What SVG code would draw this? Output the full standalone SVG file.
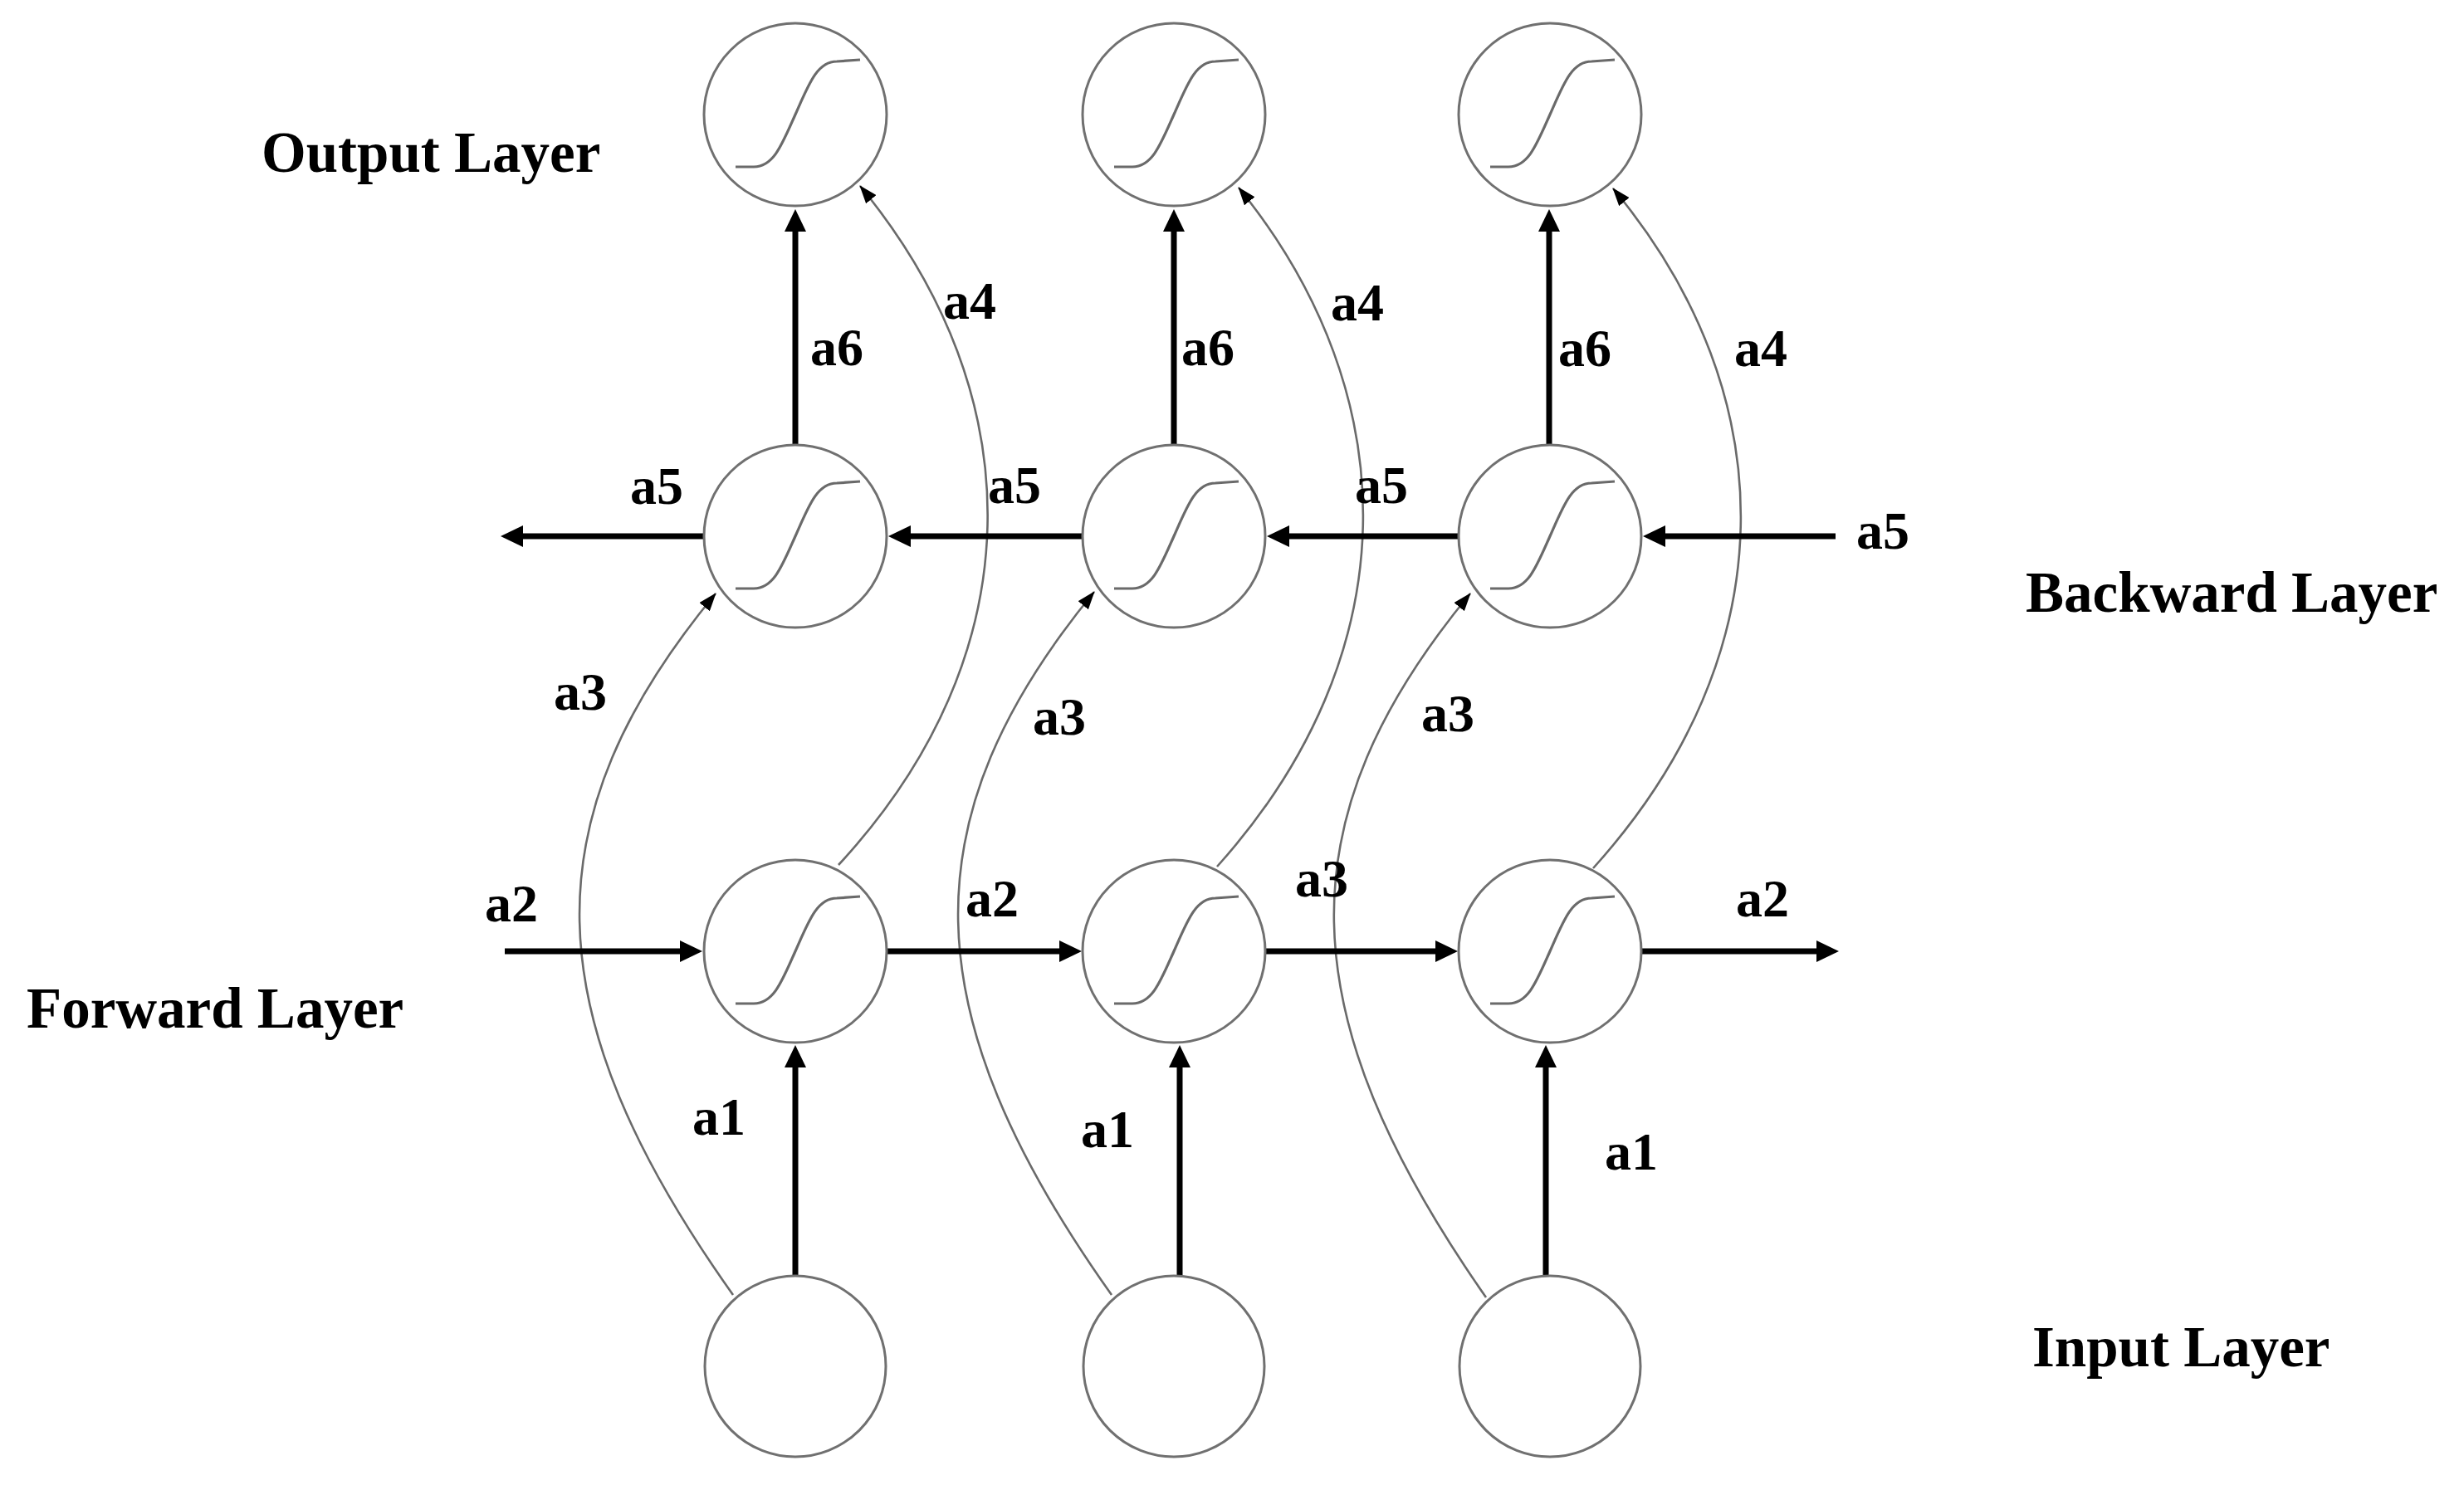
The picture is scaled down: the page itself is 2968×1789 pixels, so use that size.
<svg xmlns="http://www.w3.org/2000/svg" xmlns:xlink="http://www.w3.org/1999/xlink" width="2968" height="1789" viewBox="0 0 2968 1789">
<style>
.node{fill:#ffffff;stroke:#707070;stroke-width:3}
.sig{fill:none;stroke:#6a6a6a;stroke-width:3.2}
.thick{fill:none;stroke:#000000;stroke-width:7}
.thin{fill:none;stroke:#6a6a6a;stroke-width:2.6}
.lbl{font-family:"Liberation Serif","Times New Roman",serif;font-weight:bold;font-size:64px;fill:#000000}
.layer{font-family:"Liberation Serif","Times New Roman",serif;font-weight:bold;font-size:69px;fill:#000000}
</style>
<defs>
<marker id="big" markerUnits="userSpaceOnUse" markerWidth="28" markerHeight="26" viewBox="0 0 28 26" refX="0" refY="13" orient="auto">
<path d="M0,0 L27,13 L0,26 Z" fill="#000000"/>
</marker>
<marker id="small" markerUnits="userSpaceOnUse" markerWidth="22" markerHeight="16" viewBox="0 0 22 16" refX="21" refY="8" orient="auto">
<path d="M0,0 L22,8 L0,16 Z" fill="#000000"/>
</marker>
<path id="sigmoid" class="sig" d="M -72 63 L -50 63 C -26 63 -16 36 0 0 C 16 -36 26 -64 50 -64 L 78 -66"/>
</defs>
<rect width="2968" height="1789" fill="#ffffff"/>

<g id="connectors">
<!-- a3 curves: input -> backward -->
<path class="thin" marker-end="url(#small)" d="M 883 1560 C 640 1218 640 984 862 715"/>
<path class="thin" marker-end="url(#small)" d="M 1339 1560 C 1096 1218 1096 984 1318 713"/>
<path class="thin" marker-end="url(#small)" d="M 1790 1563 C 1549 1218 1549 984 1771 715"/>
<!-- a4 curves: forward -> output -->
<path class="thin" marker-end="url(#small)" d="M 1010 1042 C 1245 788 1245 478 1036 224"/>
<path class="thin" marker-end="url(#small)" d="M 1466 1044 C 1696 788 1696 478 1492 226"/>
<path class="thin" marker-end="url(#small)" d="M 1919 1046 C 2152 788 2152 478 1943 227"/>
<!-- a6: backward -> output -->
<path class="thick" marker-end="url(#big)" d="M 958 536 V 279"/>
<path class="thick" marker-end="url(#big)" d="M 1414 536 V 279"/>
<path class="thick" marker-end="url(#big)" d="M 1866 536 V 279"/>
<!-- a5: backward chain (right to left) -->
<path class="thick" marker-end="url(#big)" d="M 2211 646 H 2006"/>
<path class="thick" marker-end="url(#big)" d="M 1757 646 H 1553"/>
<path class="thick" marker-end="url(#big)" d="M 1304 646 H 1097"/>
<path class="thick" marker-end="url(#big)" d="M 848 646 H 630"/>
<!-- a2: forward chain -->
<path class="thick" marker-end="url(#big)" d="M 608 1146 H 819"/>
<path class="thick" marker-end="url(#big)" d="M 1068 1146 H 1276"/>
<path class="thick" marker-end="url(#big)" d="M 1524 1146 H 1729"/>
<path class="thick" marker-end="url(#big)" d="M 1977 1146 H 2188"/>
<!-- a1: input -> forward -->
<path class="thick" marker-end="url(#big)" d="M 958 1536 V 1286"/>
<path class="thick" marker-end="url(#big)" d="M 1421 1536 V 1286"/>
<path class="thick" marker-end="url(#big)" d="M 1862 1536 V 1286"/>
</g>

<g id="out1"><circle class="node" cx="958" cy="138" r="110"/><use xlink:href="#sigmoid" x="958" y="138"/></g>
<g id="out2"><circle class="node" cx="1414" cy="138" r="110"/><use xlink:href="#sigmoid" x="1414" y="138"/></g>
<g id="out3"><circle class="node" cx="1867" cy="138" r="110"/><use xlink:href="#sigmoid" x="1867" y="138"/></g>

<g id="bwd1"><circle class="node" cx="958" cy="646" r="110"/><use xlink:href="#sigmoid" x="958" y="646"/></g>
<g id="bwd2"><circle class="node" cx="1414" cy="646" r="110"/><use xlink:href="#sigmoid" x="1414" y="646"/></g>
<g id="bwd3"><circle class="node" cx="1867" cy="646" r="110"/><use xlink:href="#sigmoid" x="1867" y="646"/></g>

<g id="fwd1"><circle class="node" cx="958" cy="1146" r="110"/><use xlink:href="#sigmoid" x="958" y="1146"/></g>
<g id="fwd2"><circle class="node" cx="1414" cy="1146" r="110"/><use xlink:href="#sigmoid" x="1414" y="1146"/></g>
<g id="fwd3"><circle class="node" cx="1867" cy="1146" r="110"/><use xlink:href="#sigmoid" x="1867" y="1146"/></g>

<g id="in1"><circle class="node" cx="958" cy="1646" r="109"/></g>
<g id="in2"><circle class="node" cx="1414" cy="1646" r="109"/></g>
<g id="in3"><circle class="node" cx="1867" cy="1646" r="109"/></g>

<g id="labels">
<text class="lbl" x="759" y="607">a5</text>
<text class="lbl" x="1190" y="606">a5</text>
<text class="lbl" x="1632" y="606">a5</text>
<text class="lbl" x="2236" y="661">a5</text>
<text class="lbl" x="976" y="440">a6</text>
<text class="lbl" x="1423" y="440">a6</text>
<text class="lbl" x="1877" y="441">a6</text>
<text class="lbl" x="1136" y="384">a4</text>
<text class="lbl" x="1603" y="386">a4</text>
<text class="lbl" x="2089" y="441">a4</text>
<text class="lbl" x="667" y="855">a3</text>
<text class="lbl" x="1244" y="885">a3</text>
<text class="lbl" x="1712" y="881">a3</text>
<text class="lbl" x="584" y="1110">a2</text>
<text class="lbl" x="1163" y="1104">a2</text>
<text class="lbl" x="1560" y="1080">a3</text>
<text class="lbl" x="2091" y="1104">a2</text>
<text class="lbl" x="834" y="1367">a1</text>
<text class="lbl" x="1302" y="1382">a1</text>
<text class="lbl" x="1933" y="1409">a1</text>
</g>

<g id="layers">
<text class="layer" x="315" y="207">Output Layer</text>
<text class="layer" x="2440" y="737">Backward Layer</text>
<text class="layer" x="32" y="1238">Forward Layer</text>
<text class="layer" x="2448" y="1646">Input Layer</text>
</g>
</svg>
